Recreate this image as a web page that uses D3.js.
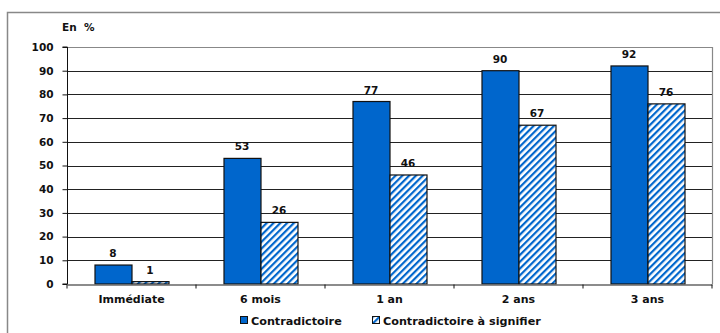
<!DOCTYPE html>
<html>
<head>
<meta charset="utf-8">
<script src="https://cdn.jsdelivr.net/npm/d3@7"></script>
<style>
  html, body { margin: 0; padding: 0; background: #fff; }
  svg { display: block; font-family: "DejaVu Sans", Verdana, sans-serif; font-weight: bold; }
</style>
</head>
<body>
<svg id="chart" width="720" height="333"></svg>
<script>
// Share of cases (%) by delay and procedure type
const categories = ["Immédiate", "6 mois", "1 an", "2 ans", "3 ans"];
const seriesNames = ["Contradictoire", "Contradictoire à signifier"];
const contradictoire = [8, 53, 77, 90, 92];
const aSignifier = [1, 26, 46, 67, 76];
const yTicks = [0, 10, 20, 30, 40, 50, 60, 70, 80, 90, 100];

const blue = "#0066CC";
const ink = "#111";
const svg = d3.select("#chart");

// Diagonal stripe pattern for the second series
const defs = svg.append("defs");
const pat = defs.append("pattern")
  .attr("id", "hatch")
  .attr("patternUnits", "userSpaceOnUse")
  .attr("width", 4.8).attr("height", 4.8)
  .attr("patternTransform", "rotate(45)");
pat.append("rect").attr("width", 4.8).attr("height", 4.8).attr("fill", "#fff");
pat.append("rect").attr("x", 0).attr("width", 2.2).attr("height", 4.8).attr("fill", blue);

// Outer frame
svg.append("path")
  .attr("d", "M7.5,333 V12.5 H720")
  .attr("fill", "none").attr("stroke", "#888").attr("stroke-width", 1.5);

const plot = { left: 67, right: 712, top: 47, bottom: 284 };

const x0 = d3.scaleBand().domain(categories).range([plot.left, plot.right]);
const groupInner = 74 / 129;
const x1 = d3.scaleBand().domain(seriesNames)
  .range([0, x0.bandwidth() * groupInner]);
const y = d3.scaleLinear().domain([0, 100]).range([plot.bottom, plot.top]);

// Gridlines
svg.append("g").selectAll("line").data(yTicks.filter(d => d > 0)).join("line")
  .attr("x1", plot.left).attr("x2", plot.right)
  .attr("y1", d => Math.round(y(d)) + 0.5).attr("y2", d => Math.round(y(d)) + 0.5)
  .attr("stroke", d => d === 100 ? "#888" : "#222").attr("stroke-width", 1);

// Plot area right border
svg.append("line")
  .attr("x1", plot.right + 0.5).attr("x2", plot.right + 0.5)
  .attr("y1", plot.top).attr("y2", plot.bottom)
  .attr("stroke", "#888").attr("stroke-width", 1.2);

// Bars
const rows = categories.map((c, i) => ({ cat: c, vals: [contradictoire[i], aSignifier[i]] }));
const groupOffset = (x0.bandwidth() - x0.bandwidth() * groupInner) / 2;
const groups = svg.append("g").selectAll("g").data(rows).join("g")
  .attr("transform", d => `translate(${x0(d.cat) + groupOffset},0)`);

groups.selectAll("rect").data(d => d.vals.map((v, j) => ({ s: seriesNames[j], v, j }))).join("rect")
  .attr("x", d => x1(d.s) + 0.5)
  .attr("y", d => y(d.v))
  .attr("width", x1.bandwidth())
  .attr("height", d => y(0) - y(d.v))
  .attr("fill", d => d.j === 0 ? blue : "url(#hatch)")
  .attr("stroke", ink).attr("stroke-width", 1.2);

groups.selectAll("text").data(d => d.vals.map((v, j) => ({ s: seriesNames[j], v }))).join("text")
  .attr("x", d => x1(d.s) + x1.bandwidth() / 2)
  .attr("y", d => y(d.v) - 8)
  .attr("text-anchor", "middle")
  .attr("font-size", 10.5).attr("fill", ink)
  .text(d => d.v);

// Y axis
const yAxis = d3.axisLeft(y).tickValues(yTicks).tickSize(5).tickPadding(9);
const gy = svg.append("g").attr("transform", `translate(${plot.left + 0.5},0)`).call(yAxis);
gy.select(".domain").attr("stroke", ink).attr("d", `M-5,${plot.bottom}H0V${plot.top}H-5`);
gy.selectAll(".tick line").attr("stroke", ink);
gy.selectAll(".tick text").attr("font-size", 10.5).attr("fill", ink)
  .attr("font-family", "'DejaVu Sans', Verdana, sans-serif");

// X axis
const xAxis = d3.axisBottom(x0).tickSize(0).tickPadding(11);
const gx = svg.append("g").attr("transform", `translate(0,${plot.bottom + 0.5})`).call(xAxis);
gx.select(".domain").attr("stroke", "#666").attr("stroke-width", 1.5);
gx.selectAll(".tick text").attr("font-size", 11).attr("fill", ink)
  .attr("font-family", "'DejaVu Sans', Verdana, sans-serif");
// Category separators
gx.append("g").selectAll("line").data(d3.range(categories.length + 1)).join("line")
  .attr("x1", i => plot.left + i * x0.step()).attr("x2", i => plot.left + i * x0.step())
  .attr("y1", 0).attr("y2", 4).attr("stroke", ink);

// Unit label
svg.append("text").attr("x", 62).attr("y", 31)
  .attr("font-size", 10.5).attr("fill", ink)
  .attr("xml:space", "preserve")
  .text("En  %");

// Legend
const legendItems = [
  { name: seriesNames[0], fill: blue, x: 240 },
  { name: seriesNames[1], fill: "url(#hatch)", x: 372 }
];
const lg = svg.append("g").selectAll("g").data(legendItems).join("g")
  .attr("transform", d => `translate(${d.x},316)`);
lg.append("rect").attr("width", 7).attr("height", 7).attr("x", 0.5).attr("y", 0.5)
  .attr("fill", d => d.fill).attr("stroke", ink).attr("stroke-width", 1);
lg.append("text").attr("x", 11).attr("y", 8.5)
  .attr("font-size", 11.2).attr("fill", ink)
  .text(d => d.name);
</script>
</body>
</html>
